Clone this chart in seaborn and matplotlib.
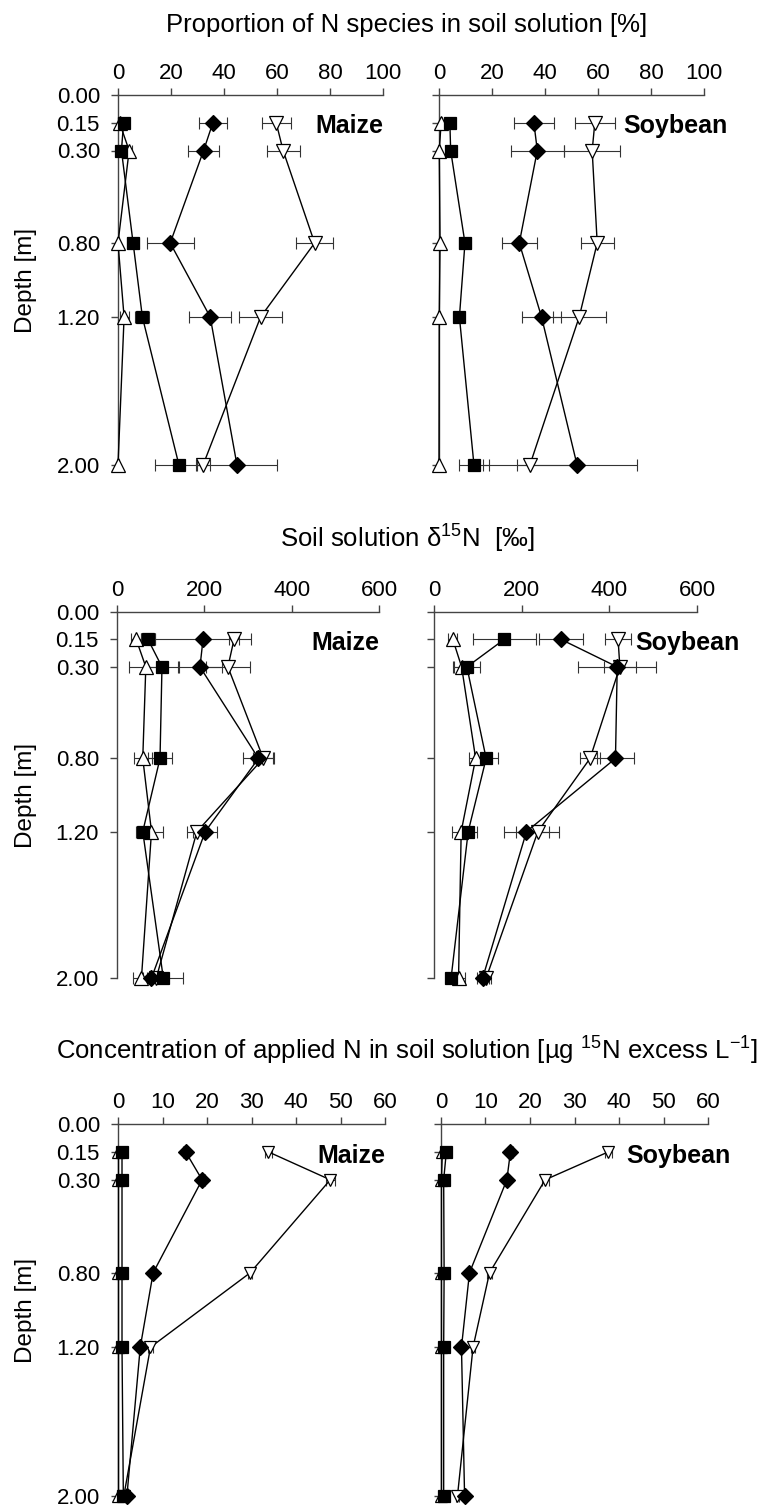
import matplotlib
matplotlib.use("Agg")
import matplotlib.pyplot as plt
import seaborn as sns

# ---------------- data ----------------
depth = [0.15, 0.30, 0.80, 1.20, 2.00]
depth_ticks = [0.00, 0.15, 0.30, 0.80, 1.20, 2.00]
crops = ["Maize", "Soybean"]

# Panel A: proportion of N species in soil solution [%]
propA_maize_sq = [2.1, 1.3, 5.7, 9.2, 23.0]
propA_maize_sq_err = [0.8, 0.8, 2.2, 2.6, 9.0]
propA_maize_dia = [35.8, 32.3, 19.7, 34.8, 44.9]
propA_maize_dia_err = [5.3, 5.8, 8.9, 7.9, 15.1]
propA_maize_vtri = [59.7, 62.3, 74.2, 53.8, 32.1]
propA_maize_vtri_err = [5.5, 6.2, 7.0, 8.2, 2.5]
propA_maize_atri = [0.6, 4.2, 0.0, 2.3, 0.0]
propA_maize_atri_err = [0.5, 1.0, 0.5, 1.7, 0.3]

propA_soy_sq = [4.1, 4.4, 9.8, 7.7, 13.2]
propA_soy_sq_err = [1.5, 1.0, 2.3, 1.5, 5.7]
propA_soy_dia = [35.8, 37.1, 30.3, 38.7, 52.1]
propA_soy_dia_err = [7.5, 10.0, 6.7, 7.4, 22.6]
propA_soy_vtri = [58.8, 57.8, 59.7, 52.9, 34.3]
propA_soy_vtri_err = [7.5, 10.5, 6.2, 10.0, 17.7]
propA_soy_atri = [0.8, 0.1, 0.4, 0.1, 0.0]
propA_soy_atri_err = [0.5, 0.3, 0.3, 0.3, 0.2]

# Panel B: soil solution delta15N [permil]
d15_maize_sq = [71, 103, 98.5, 59, 106]
d15_maize_sq_err = [16, 38, 28, 15, 46]
d15_maize_dia = [197, 190, 324, 202, 79]
d15_maize_dia_err = [111, 50, 35, 27, 10]
d15_maize_vtri = [268, 254, 335, 183, 90]
d15_maize_vtri_err = [11, 51, 23, 23, 10]
d15_maize_atri = [44, 66, 59, 79, 56]
d15_maize_atri_err = [11, 38, 21, 27, 19]

d15_soy_sq = [160, 75, 119, 78, 39]
d15_soy_sq_err = [72, 30, 27, 19, 10]
d15_soy_dia = [290, 418, 414, 211, 111]
d15_soy_dia_err = [50, 89, 43, 52, 14]
d15_soy_vtri = [420, 424, 356, 237, 119]
d15_soy_vtri_err = [29, 36, 22, 49, 10]
d15_soy_atri = [43, 63, 95, 62, 56]
d15_soy_atri_err = [10, 20, 15, 20, 15]

# Panel C: concentration of applied N [ug 15N excess L-1]
conc_maize_sq = [0.9, 0.9, 0.9, 0.9, 1.2]
conc_maize_sq_err = [0.3, 0.3, 0.3, 0.3, 0.3]
conc_maize_dia = [15.2, 18.9, 7.9, 5.0, 2.0]
conc_maize_dia_err = [0.5, 0.6, 0.3, 0.3, 0.2]
conc_maize_vtri = [33.8, 47.7, 29.7, 7.3, 1.3]
conc_maize_vtri_err = [0.8, 1.0, 0.5, 0.5, 0.2]
conc_maize_atri = [0.1, 0.1, 0.1, 0.1, 0.1]
conc_maize_atri_err = [0.2, 0.2, 0.2, 0.2, 0.2]

conc_soy_sq = [1.2, 0.6, 0.7, 0.6, 0.6]
conc_soy_sq_err = [0.3, 0.3, 0.3, 0.3, 0.3]
conc_soy_dia = [15.6, 14.8, 6.4, 4.6, 5.3]
conc_soy_dia_err = [0.5, 0.5, 0.3, 0.3, 0.3]
conc_soy_vtri = [37.6, 23.4, 10.9, 7.2, 3.7]
conc_soy_vtri_err = [0.8, 0.8, 0.5, 0.4, 0.3]
conc_soy_atri = [0.3, 0.1, 0.1, 0.1, 0.1]
conc_soy_atri_err = [0.2, 0.2, 0.2, 0.2, 0.2]

xticks_A = [0, 20, 40, 60, 80, 100]
xticks_B = [0, 200, 400, 600]
xticks_C = [0, 10, 20, 30, 40, 50, 60]

title_A = "Proportion of N species in soil solution [%]"
title_B = r"Soil solution δ$^{15}$N  [‰]"
title_C = r"Concentration of applied N in soil solution [µg $^{\mathrm{15}}$N excess L$^{\mathrm{-1}}$]"

# ---------------- style ----------------
sns.set_style("ticks")
plt.rcParams["font.family"] = ["Liberation Sans", "DejaVu Sans"]
plt.rcParams["mathtext.fontset"] = "custom"
plt.rcParams["mathtext.rm"] = "Liberation Sans"
plt.rcParams["mathtext.it"] = "Liberation Sans:italic"
plt.rcParams["mathtext.bf"] = "Liberation Sans:bold"
for k in ["text.color", "axes.labelcolor", "xtick.labelcolor", "ytick.labelcolor"]:
    plt.rcParams[k] = "black"

W, H = 765, 1507
fig = plt.figure(figsize=(W / 100, H / 100), dpi=100)


def add_ax(left, top, width, height):
    return fig.add_axes([left / W, 1 - (top + height) / H, width / W, height / H])


series_style = {
    "vtri": dict(marker="v", mfc="white", ms=10, z=3),
    "atri": dict(marker="^", mfc="white", ms=10, z=3),
    "sq": dict(marker="s", mfc="black", ms=8, z=4),
    "dia": dict(marker="D", mfc="black", ms=8, z=5),
}


def draw_panel(ax, data, xlim, xticks, crop, left_col, small=False):
    for key in ["vtri", "atri", "sq", "dia"]:
        vals, errs = data[key]
        st = series_style[key]
        ms = st["ms"] - (1.5 if small and "tri" in key else 0)
        eb = ax.errorbar(vals, depth, xerr=errs, fmt="none", ecolor="#333333",
                         elinewidth=0.8, capsize=4, capthick=0.8, zorder=2)
        for a in list(eb.lines[1]) + list(eb.lines[2]):
            a.set_clip_on(False)
        sns.lineplot(x=vals, y=depth, sort=False, estimator=None, orient="y",
                     marker=st["marker"], markersize=ms, markerfacecolor=st["mfc"],
                     markeredgecolor="black", markeredgewidth=0.9,
                     color="black", linewidth=1.0, ax=ax, zorder=st["z"],
                     clip_on=False, legend=False)
    ax.set_xlim(*xlim)
    ax.set_ylim(2.0, 0.0)
    ax.xaxis.tick_top()
    ax.set_xticks(xticks)
    ax.set_xticklabels([str(t) for t in xticks])
    ax.set_yticks(depth_ticks)
    if left_col:
        ax.set_yticklabels([f"{d:.2f}" for d in depth_ticks])
        ax.set_ylabel("Depth [m]", fontsize=17.5, color="black")
        ax.yaxis.set_label_coords(-0.305, 0.5)
    else:
        ax.set_yticklabels([])
        ax.set_ylabel("")
    ax.set_xlabel("")
    for s in ["right", "bottom"]:
        ax.spines[s].set_visible(False)
    for s in ["top", "left"]:
        ax.spines[s].set_color("#444444")
        ax.spines[s].set_linewidth(1.0)
    ax.tick_params(axis="x", direction="out", length=5, width=1, pad=3,
                   labelsize=16, color="#444444", labelcolor="black")
    ax.tick_params(axis="y", direction="out", length=5, width=1, pad=8,
                   labelsize=16, color="#444444", labelcolor="black")
    if crop == "Maize":
        ax.text(1.0, 0.896, crop, transform=ax.transAxes, ha="right",
                va="baseline", fontsize=18, fontweight="bold", color="black")
    return ax


rows = [
    dict(top=95, h=370, lefts=[(118, 265), (439, 265)], xlim=(0, 100), xticks=xticks_A,
         data=[{"sq": (propA_maize_sq, propA_maize_sq_err), "dia": (propA_maize_dia, propA_maize_dia_err),
                "vtri": (propA_maize_vtri, propA_maize_vtri_err), "atri": (propA_maize_atri, propA_maize_atri_err)},
               {"sq": (propA_soy_sq, propA_soy_sq_err), "dia": (propA_soy_dia, propA_soy_dia_err),
                "vtri": (propA_soy_vtri, propA_soy_vtri_err), "atri": (propA_soy_atri, propA_soy_atri_err)}],
         soy_x=0.694, title=title_A, title_y=32, small=False),
    dict(top=612, h=366, lefts=[(117, 262), (434, 263)], xlim=(0, 600), xticks=xticks_B,
         data=[{"sq": (d15_maize_sq, d15_maize_sq_err), "dia": (d15_maize_dia, d15_maize_dia_err),
                "vtri": (d15_maize_vtri, d15_maize_vtri_err), "atri": (d15_maize_atri, d15_maize_atri_err)},
               {"sq": (d15_soy_sq, d15_soy_sq_err), "dia": (d15_soy_dia, d15_soy_dia_err),
                "vtri": (d15_soy_vtri, d15_soy_vtri_err), "atri": (d15_soy_atri, d15_soy_atri_err)}],
         soy_x=0.764, title=title_B, title_y=548, small=False),
    dict(top=1124, h=372, lefts=[(118, 267), (441, 267)], xlim=(0, 60), xticks=xticks_C,
         data=[{"sq": (conc_maize_sq, conc_maize_sq_err), "dia": (conc_maize_dia, conc_maize_dia_err),
                "vtri": (conc_maize_vtri, conc_maize_vtri_err), "atri": (conc_maize_atri, conc_maize_atri_err)},
               {"sq": (conc_soy_sq, conc_soy_sq_err), "dia": (conc_soy_dia, conc_soy_dia_err),
                "vtri": (conc_soy_vtri, conc_soy_vtri_err), "atri": (conc_soy_atri, conc_soy_atri_err)}],
         soy_x=0.693, title=title_C, title_y=1060, small=True),
]

for r in rows:
    for i, crop in enumerate(crops):
        left, width = r["lefts"][i]
        ax = add_ax(left, r["top"], width, r["h"])
        draw_panel(ax, r["data"][i], r["xlim"], r["xticks"], crop, i == 0, r["small"])
        if crop == "Soybean":
            ax.text(r["soy_x"], 0.896, crop, transform=ax.transAxes, ha="left",
                    va="baseline", fontsize=18, fontweight="bold", color="black")
    fig.text(407 / W, 1 - r["title_y"] / H, r["title"], ha="center", va="baseline",
             fontsize=18.5, color="black")

fig.savefig("out.png", dpi=100)
